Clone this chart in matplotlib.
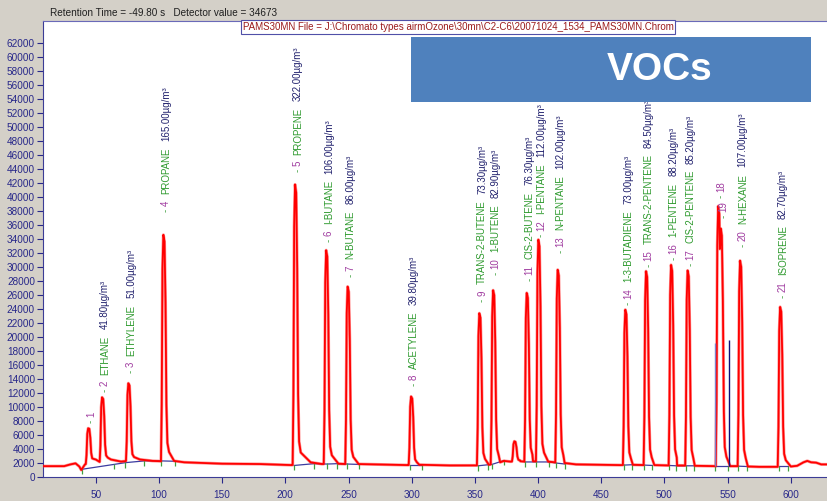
import numpy as np
import matplotlib.pyplot as plt
from matplotlib.patches import Rectangle

plt.rcParams['font.family'] = ['Liberation Sans', 'DejaVu Sans']

# peaks: retention time, apex signal, label parts
peak_rt = [44.5, 55.5, 76.3, 104.0, 208.2, 232.8, 249.8, 300.0, 354.0, 364.9,
           381.7, 391.5, 400.7, 416.0, 469.5, 485.9, 505.7, 518.8, 543.0, 545.0,
           560.3, 592.0]
peak_top = [7000, 11400, 13400, 34600, 41800, 32400, 27200, 11500, 23400, 26700,
            5100, 26300, 33900, 29600, 23900, 29400, 30300, 29500, 38700, 35500,
            30900, 24300]
peak_num = ['1', '2', '3', '4', '5', '6', '7', '8', '9', '10',
            '', '11', '12', '13', '14', '15', '16', '17', '18', '19',
            '20', '21']
peak_name = ['', 'ETHANE', 'ETHYLENE', 'PROPANE', 'PROPENE', 'I-BUTANE', 'N-BUTANE',
             'ACETYLENE', 'TRANS-2-BUTENE', '1-BUTENE', '', 'CIS-2-BUTENE',
             'I-PENTANE', 'N-PENTANE', '1-3-BUTADIENE', 'TRANS-2-PENTENE',
             '1-PENTENE', 'CIS-2-PENTENE', '', '', 'N-HEXANE', 'ISOPRENE']
peak_conc = ['', '41.80', '51.00', '165.00', '322.00', '106.00', '86.00', '39.80',
             '73.30', '82.90', '', '76.30', '112.00', '102.00', '73.00', '84.50',
             '88.20', '85.20', '', '', '107.00', '82.70']
# distance (px) between apex and start of its label
label_lift = [5, 5, 10, 23, 12, 8, 10, 10, 11, 15, 0, 12, 3, 17, 5, 4, 5, 4, 8, 10, 14, 9]

# red baseline points between peaks
base_rt = [8, 25, 30, 34, 37, 38.5, 40, 41.5, 50, 53, 62, 70, 85, 95, 101,
           112, 120, 150, 180, 205, 220, 229, 242, 247, 258, 270, 297, 306, 330,
           351, 361, 362.5, 370, 373, 378, 386, 389, 396, 408, 413, 421, 430, 465,
           475, 482, 492, 502, 510, 515, 524, 538, 552, 557, 566, 575, 589, 600,
           605, 610, 613, 616, 620, 624, 629]
base_val = [1550, 1550, 1800, 1950, 1500, 1000, 1400, 1800, 2500, 2150, 2500, 2200,
            2500, 2300, 2250, 2300, 2100, 1900, 1850, 1700, 2100, 1850, 1900, 1850,
            1850, 1800, 1700, 1750, 1650, 1650, 1750, 1800, 2100, 2300, 2200, 2250,
            2200, 2250, 2200, 2100, 2000, 1800, 1700, 1750, 1700, 1700, 1650, 1650,
            1650, 1600, 1550, 1550, 1550, 1500, 1450, 1450, 1500, 1600, 2100, 2300,
            2100, 2050, 1800, 1800]

# integration baselines (blue) and peak start/end marks (green)
blue_rt = [[39, 64.5, 73.5, 88.5, 101.5, 112.5], [207, 222.5, 233, 240.5, 249, 258],
           [298.5, 308.5], [352.5, 360.5, 363.5, 373], [389.5, 398.5, 409, 414, 421.5],
           [468, 474, 484, 490.5], [503.5, 509.5, 517, 523], [540, 550.5, 558, 565],
           [591, 598]]
blue_val = [[1100, 1800, 2050, 2300, 2300, 2250], [1650, 1900, 1850, 1900, 1850, 1800],
            [1650, 1650], [1600, 1750, 1800, 2350], [2150, 2150, 2150, 2000, 1850],
            [1700, 1750, 1700, 1650], [1650, 1600, 1600, 1600], [1500, 1500, 1550, 1500],
            [1500, 1500]]
drop_rt = [540.0, 551.3]
drop_top = [19150, 19600]

x_ticks = np.arange(50, 601, 50)
y_ticks = np.arange(0, 62001, 2000)

navy = '#28288a'
fig = plt.figure(figsize=(8.27, 5.01), dpi=100, facecolor='#d4d0c8')
ax = fig.add_axes([43.3 / 827, 24 / 501, (827 - 43.3) / 827, 456 / 501])
ax.set_facecolor('white')

# trace = baseline + peaks drawn as narrow spikes (overlapping peaks: take the higher)
offs = np.array([-2.4, -1.8, -1.2, -0.5, 0.4, 1.2, 1.9, 2.7, 4.0])
frac = np.array([0, 0.25, 0.85, 1.0, 0.97, 0.7, 0.25, 0.08, 0.04])
xs = np.sort(np.concatenate([base_rt] + [r + offs for r in peak_rt]))
base = np.interp(xs, base_rt, base_val)
bump = np.zeros_like(xs)
for r, top in zip(peak_rt, peak_top):
    amp = top - np.interp(r, base_rt, base_val)
    bump = np.maximum(bump, np.interp(xs, r + offs, amp * frac, left=0, right=0))
sig = base + bump
ax.plot(xs, sig, color='#ff3030', lw=2.2, alpha=0.5, zorder=3)
ax.plot(xs, sig, color='red', lw=1.3, zorder=3)

for r, v in zip(blue_rt, blue_val):
    ax.plot(r, v, color='#3c3ca0', lw=0.9, zorder=2)
    ax.vlines(r, np.array(v) - 700, np.array(v) + 100, color='#40a040', lw=0.9, zorder=2)
ax.vlines(drop_rt[0], 1500, drop_top[0], color='#8080c8', lw=1.0, zorder=4)
ax.vlines(drop_rt[1], 1500, drop_top[1], color='#10107a', lw=1.0, zorder=4)

# rotated peak labels, built piece by piece
for r, top, num, name, conc, lift in zip(peak_rt, peak_top, peak_num, peak_name,
                                         peak_conc, label_lift):
    if num == '':
        continue
    pieces = [('-', '#40a040'), (num, '#a03ca0')]
    if name:
        pieces += [(name, '#2e9a2e'), (conc + 'µg/m³', '#22226e')]
    prev = ax.annotate(pieces[0][0], xy=(r, top), xytext=(1.5, lift * 0.72),
                       textcoords='offset points', rotation=90, ha='center',
                       va='bottom', color=pieces[0][1], fontsize=7, zorder=5)
    for i, (txt, col) in enumerate(pieces[1:]):
        gap = 2 if i == 0 else 4.5
        prev = ax.annotate(txt, xy=(0.5, 1), xycoords=prev, xytext=(0, gap),
                           textcoords='offset points', rotation=90, ha='center',
                           va='bottom', color=col, fontsize=7, zorder=5)

ax.set_xlim(8.5, 628.6)
ax.set_ylim(0, 65140)
ax.set_xticks(x_ticks)
ax.set_yticks(y_ticks)
ax.tick_params(axis='both', colors=navy, labelsize=7.2, length=4, width=0.8)
ax.tick_params(axis='x', pad=5)
ax.tick_params(axis='y', pad=2)
for s in ['left', 'bottom']:
    ax.spines[s].set_color('#3c3c96')
ax.spines['top'].set_color('#6a6ab8')
ax.spines['right'].set_visible(False)

fig.text(50 / 827, 1 - 13 / 501, 'Retention Time = -49.80 s   Detector value = 34673',
         fontsize=7.2, color='#202020', va='center', ha='left')
fig.text(458 / 827, 1 - 27 / 501,
         'PAMS30MN File = J:\\Chromato types airmOzone\\30mn\\C2-C6\\20071024_1534_PAMS30MN.Chrom',
         fontsize=7, color='#9b1b1b', va='center', ha='center', zorder=6,
         bbox=dict(facecolor='white', edgecolor='#5050a8', lw=0.8, pad=1.2))

fig.add_artist(Rectangle((411 / 827, 1 - 101.5 / 501), 400 / 827, 64.5 / 501,
                         transform=fig.transFigure, facecolor='#4f81bd',
                         edgecolor='none', zorder=7))
fig.text(660 / 827, 1 - 70 / 501, 'VOCs', fontsize=28, fontweight='bold', color='white',
         ha='center', va='center', zorder=8)

fig.savefig('out.png', dpi=100, facecolor=fig.get_facecolor())
